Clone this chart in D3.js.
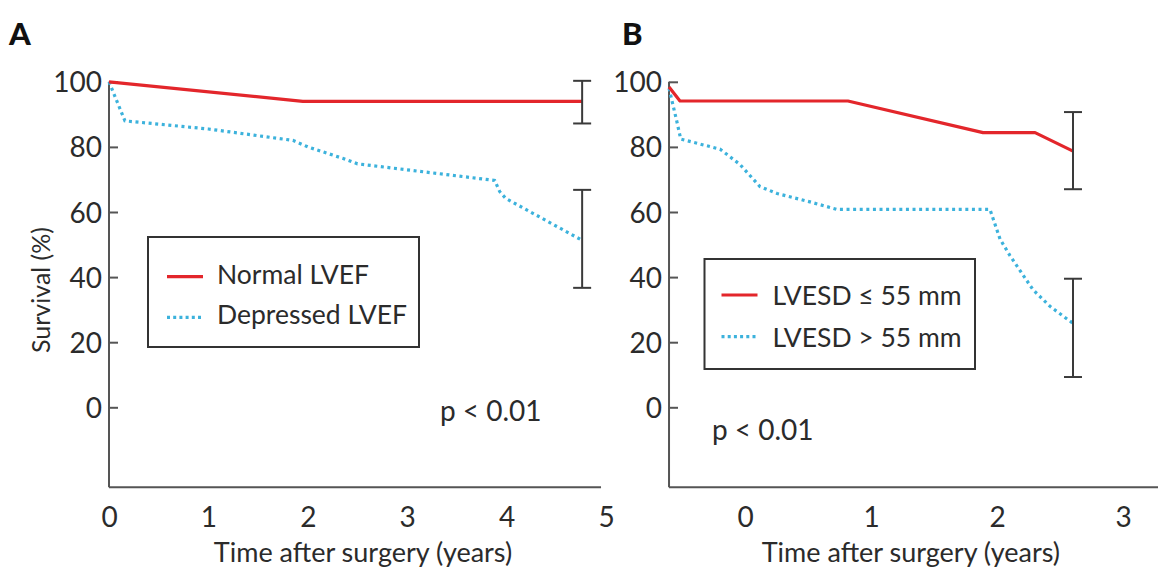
<!DOCTYPE html>
<html>
<head>
<meta charset="utf-8">
<script src="https://cdn.jsdelivr.net/npm/d3@7"></script>
<style>
  html, body { margin: 0; padding: 0; background: #fff; }
  svg { display: block; font-family: Lato, "DejaVu Sans", sans-serif; }
</style>
</head>
<body>
<svg id="chart" width="1158" height="574"></svg>
<script>
// ---- Panel A: survival by left ventricular ejection fraction ----
const timeA_normal   = [0, 1.95, 4.76];
const survA_normal   = [100, 94, 94];
const timeA_depress  = [0, 0.16, 1.0, 1.85, 2.0, 2.35, 2.5, 3.88, 3.93, 3.99, 4.76];
const survA_depress  = [100, 88, 85.5, 82, 80, 76.5, 74.8, 69.7, 66.3, 64.2, 51.3];
const errA_time      = [4.76, 4.76];
const errA_low       = [87.2, 36.7];
const errA_high      = [100.3, 66.8];
const xTicksA        = [0, 1, 2, 3, 4, 5];

// ---- Panel B: survival by left ventricular end systolic dimension ----
const timeB_small    = [-0.603, -0.516, 0.817, 1.889, 2.302, 2.603];
const survB_small    = [98.4, 94.1, 94.1, 84.4, 84.4, 78.7];
const timeB_large    = [-0.603, -0.542, -0.51, -0.198, -0.04, 0.119, 0.254, 0.516, 0.73, 1.944, 2.024, 2.103, 2.286, 2.421, 2.603];
const survB_large    = [98, 88, 82.4, 79.3, 74.6, 67.8, 65.7, 63.1, 60.8, 60.8, 51.7, 46.6, 36.1, 31, 25.8];
const errB_time      = [2.603, 2.603];
const errB_low       = [67, 9.3];
const errB_high      = [90.7, 39.5];
const xTicksB        = [0, 1, 2, 3];

const yTicks = [0, 20, 40, 60, 80, 100];
const legendA = ["Normal LVEF", "Depressed LVEF"];
const legendB = ["LVESD \u2264 55 mm", "LVESD > 55 mm"];
const pText = "p < 0.01";

const RED = "#e3262b";
const BLUE = "#3cb2dc";
const AXIS = "#555";
const INK = "#2b2b2b";

const svg = d3.select("#chart");

const yScale = d3.scaleLinear().domain([0, 100]).range([407.3, 81.8]);
const yBottom = -24.6;

function zip(xs, ys) { return xs.map((x, i) => [x, ys[i]]); }

function drawPanel(opt) {
  const x = opt.x, y = yScale;
  const g = svg.append("g");
  const x0 = opt.axisStart;

  // axes lines
  g.append("line").attr("x1", x(x0)).attr("x2", x(x0))
    .attr("y1", y(100)).attr("y2", y(yBottom))
    .attr("stroke", AXIS).attr("stroke-width", 2);
  g.append("line").attr("x1", x(x0)).attr("x2", x(opt.axisEnd))
    .attr("y1", y(yBottom)).attr("y2", y(yBottom))
    .attr("stroke", AXIS).attr("stroke-width", 2);

  // y axis ticks (pointing inward) and labels
  const ya = d3.axisLeft(y).tickValues(yTicks).tickSizeInner(-9).tickSizeOuter(0).tickPadding(7);
  const yg = g.append("g").attr("transform", `translate(${x(x0)},0)`).call(ya);
  yg.select(".domain").remove();
  yg.selectAll(".tick line").attr("stroke", AXIS).attr("stroke-width", 2);
  yg.selectAll(".tick text").attr("fill", INK).attr("font-size", 28)
    .attr("font-family", "Lato, sans-serif").attr("dy", "0.36em");

  // x axis labels
  const xa = d3.axisBottom(x).tickValues(opt.xTicks).tickSize(0).tickPadding(20).tickFormat(d3.format("d"));
  const xg = g.append("g").attr("transform", `translate(0,${y(yBottom)})`).call(xa);
  xg.select(".domain").remove();
  xg.selectAll(".tick text").attr("fill", INK).attr("font-size", 28)
    .attr("font-family", "Lato, sans-serif");

  // x axis title
  g.append("text").attr("x", (x(x0) + x(opt.axisEnd)) / 2 + opt.titleShift).attr("y", 562)
    .attr("text-anchor", "middle").attr("fill", INK).attr("font-size", 27)
    .text("Time after surgery (years)");

  // survival curves
  const line = d3.line().x(d => x(d[0])).y(d => y(d[1]));
  g.append("path").datum(zip(opt.t2, opt.s2)).attr("d", line)
    .attr("fill", "none").attr("stroke", BLUE).attr("stroke-width", 3.2)
    .attr("stroke-dasharray", "3 3.6");
  g.append("path").datum(zip(opt.t1, opt.s1)).attr("d", line)
    .attr("fill", "none").attr("stroke", RED).attr("stroke-width", 3.2)
    .attr("stroke-linejoin", "round");

  // confidence bars at the last follow-up
  opt.errT.forEach((t, i) => {
    const cx = x(t);
    g.append("line").attr("x1", cx).attr("x2", cx)
      .attr("y1", y(opt.errLo[i])).attr("y2", y(opt.errHi[i]))
      .attr("stroke", "#3a3a3a").attr("stroke-width", 2);
    [opt.errLo[i], opt.errHi[i]].forEach(v => {
      g.append("line").attr("x1", cx - 9).attr("x2", cx + 9)
        .attr("y1", y(v)).attr("y2", y(v))
        .attr("stroke", "#3a3a3a").attr("stroke-width", 2);
    });
  });

  // legend
  const L = opt.legend;
  g.append("rect").attr("x", L.x).attr("y", L.y).attr("width", L.w).attr("height", L.h)
    .attr("fill", "#fff").attr("stroke", "#333").attr("stroke-width", 2);
  opt.labels.forEach((lab, i) => {
    const ly = L.rowY[i];
    g.append("line").attr("x1", L.x + L.sx0).attr("x2", L.x + L.sx1)
      .attr("y1", ly).attr("y2", ly)
      .attr("stroke", i === 0 ? RED : BLUE).attr("stroke-width", 3.2)
      .attr("stroke-dasharray", i === 0 ? null : "3 3.2");
    g.append("text").attr("x", L.x + L.tx).attr("y", L.baseY[i])
      .attr("fill", INK).attr("font-size", L.fs).text(lab);
  });

  // significance
  g.append("text").attr("x", opt.p.x).attr("y", opt.p.y).attr("fill", INK)
    .attr("font-size", 28).text(pText);

  // panel letter
  g.append("text").attr("x", opt.letter.x).attr("y", 45).attr("fill", "#111")
    .attr("font-size", 31).attr("font-weight", 900).text(opt.letter.t);
}

drawPanel({
  x: d3.scaleLinear().domain([0, 5]).range([109, 606]),
  axisStart: 0, axisEnd: 4.95, xTicks: xTicksA, titleShift: 8,
  t1: timeA_normal, s1: survA_normal, t2: timeA_depress, s2: survA_depress,
  errT: errA_time, errLo: errA_low, errHi: errA_high,
  legend: { x: 148, y: 237, w: 271, h: 110, sx0: 19, sx1: 55, tx: 69, fs: 26.5,
            rowY: [276.7, 317.3], baseY: [283.5, 323.5] },
  labels: legendA,
  p: { x: 440, y: 421 },
  letter: { x: 9, t: "A" }
});

drawPanel({
  x: d3.scaleLinear().domain([0, 3]).range([745, 1123]),
  axisStart: -0.603, axisEnd: 3.3, xTicks: xTicksB, titleShift: -4,
  t1: timeB_small, s1: survB_small, t2: timeB_large, s2: survB_large,
  errT: errB_time, errLo: errB_low, errHi: errB_high,
  legend: { x: 704.5, y: 259, w: 270.5, h: 110, sx0: 17, sx1: 53, tx: 68, fs: 26.5,
            rowY: [295, 336.7], baseY: [305, 346.7] },
  labels: legendB,
  p: { x: 712, y: 440 },
  letter: { x: 622, t: "B" }
});

// shared y axis title
svg.append("text")
  .attr("transform", "translate(50,290) rotate(-90)")
  .attr("text-anchor", "middle").attr("fill", INK).attr("font-size", 25)
  .text("Survival (%)");
</script>
</body>
</html>
